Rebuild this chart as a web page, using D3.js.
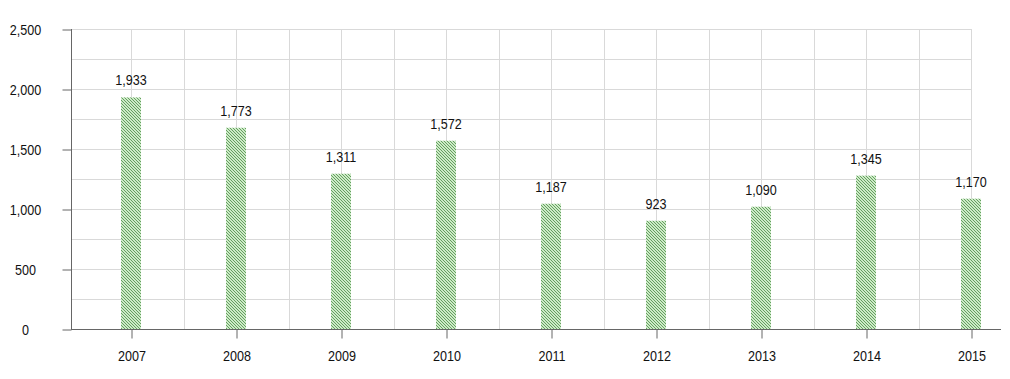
<!DOCTYPE html>
<html>
<head>
<meta charset="utf-8">
<script src="https://cdn.jsdelivr.net/npm/d3@7"></script>
<style>
html,body{margin:0;padding:0;background:#fff;}
svg{display:block;}
text{font-family:"Liberation Sans","DejaVu Sans",sans-serif;fill:#111;}
</style>
</head>
<body>
<svg id="chart" width="1010" height="379"></svg>
<script>
// Data
const years = ["2007","2008","2009","2010","2011","2012","2013","2014","2015"];
const barValues = [1930, 1677, 1294, 1569, 1044, 902, 1019, 1278, 1086];
const valueLabels = ["1,933","1,773","1,311","1,572","1,187","923","1,090","1,345","1,170"];
const yTicks = [0, 500, 1000, 1500, 2000, 2500];
const yGrid = [250, 500, 750, 1000, 1250, 1500, 1750, 2000, 2250, 2500];

(function(){
const svg = d3.select("#chart");
const mLeft = 71, mRight = 1001, mTop = 29, mBottom = 329;
const sx = 0.84, fs = 15;

const x = d3.scalePoint().domain(years).range([131, 971]);
const y = d3.scaleLinear().domain([0, 2500]).range([mBottom, mTop]);
const step = x.step();

// pattern
const defs = svg.append("defs");
const pat = defs.append("pattern").attr("id","hatch").attr("patternUnits","userSpaceOnUse")
  .attr("width",3).attr("height",3);
pat.append("rect").attr("width",3).attr("height",3).attr("fill","#cdebc7");
pat.append("path").attr("d","M0,0 L3,3 M-1,2 L1,4 M2,-1 L4,1")
  .attr("stroke","#4a8a45").attr("stroke-width",0.8);

// grid
const grid = svg.append("g");
grid.selectAll("line.h").data(yGrid).join("line")
  .attr("x1", mLeft).attr("x2", x(years[years.length-1]) + 1)
  .attr("y1", d => y(d) + 0.5).attr("y2", d => y(d) + 0.5)
  .attr("stroke", "#d9d9d9").attr("stroke-width", 1);
const vgrid = [];
years.forEach((yr, i) => { vgrid.push(x(yr)); if (i < years.length - 1) vgrid.push(x(yr) + step / 2); });
grid.selectAll("line.v").data(vgrid).join("line")
  .attr("x1", d => Math.round(d) + 0.5).attr("x2", d => Math.round(d) + 0.5)
  .attr("y1", mTop).attr("y2", mBottom)
  .attr("stroke", "#d9d9d9").attr("stroke-width", 1);

// bars
const bw = 20;
svg.append("g").selectAll("rect").data(years).join("rect")
  .attr("x", (d) => x(d) - bw/2)
  .attr("y", (d,i) => y(barValues[i]))
  .attr("width", bw)
  .attr("height", (d,i) => mBottom - y(barValues[i]))
  .attr("fill", "url(#hatch)");

// value labels
svg.append("g").selectAll("text").data(years).join("text")
  .attr("transform", (d,i) => `translate(${x(d)},${y(barValues[i]) - 12}) scale(${sx},1)`)
  .attr("text-anchor","middle")
  .attr("font-size", fs)
  .text((d,i) => valueLabels[i]);

// x axis
const xAxis = d3.axisBottom(x).tickSize(9).tickPadding(9).tickSizeOuter(0);
const gx = svg.append("g").attr("transform", `translate(0.5,${mBottom + 0.5})`).call(xAxis);
gx.select(".domain").remove();
gx.selectAll(".tick line").attr("stroke","#666");
gx.selectAll(".tick text").attr("font-size", fs).attr("font-family", '"Liberation Sans","DejaVu Sans",sans-serif').attr("fill","#111")
  .attr("y", null).attr("dy", null)
  .attr("transform", `translate(0,31) scale(${sx},1)`);
svg.append("line").attr("x1", mLeft).attr("x2", mRight).attr("y1", mBottom + 0.5).attr("y2", mBottom + 0.5)
  .attr("stroke","#666").attr("stroke-width",1);

// y axis
const yAxis = d3.axisLeft(y).tickValues(yTicks).tickSize(9).tickSizeOuter(0).tickFormat(d3.format(","));
const gy = svg.append("g").attr("transform", `translate(${mLeft + 0.5},0.5)`).call(yAxis);
gy.select(".domain").remove();
gy.selectAll(".tick line").attr("stroke","#666");
gy.selectAll(".tick text").attr("font-size", fs).attr("font-family", '"Liberation Sans","DejaVu Sans",sans-serif').attr("fill","#111")
  .attr("text-anchor","middle").attr("x", null).attr("dy", null).attr("y", null)
  .attr("transform", `translate(${25 - mLeft},5) scale(${sx},1)`);
svg.append("line").attr("x1", mLeft + 0.5).attr("x2", mLeft + 0.5).attr("y1", mTop).attr("y2", mBottom + 1)
  .attr("stroke","#666").attr("stroke-width",1);
})();
</script>
</body>
</html>
